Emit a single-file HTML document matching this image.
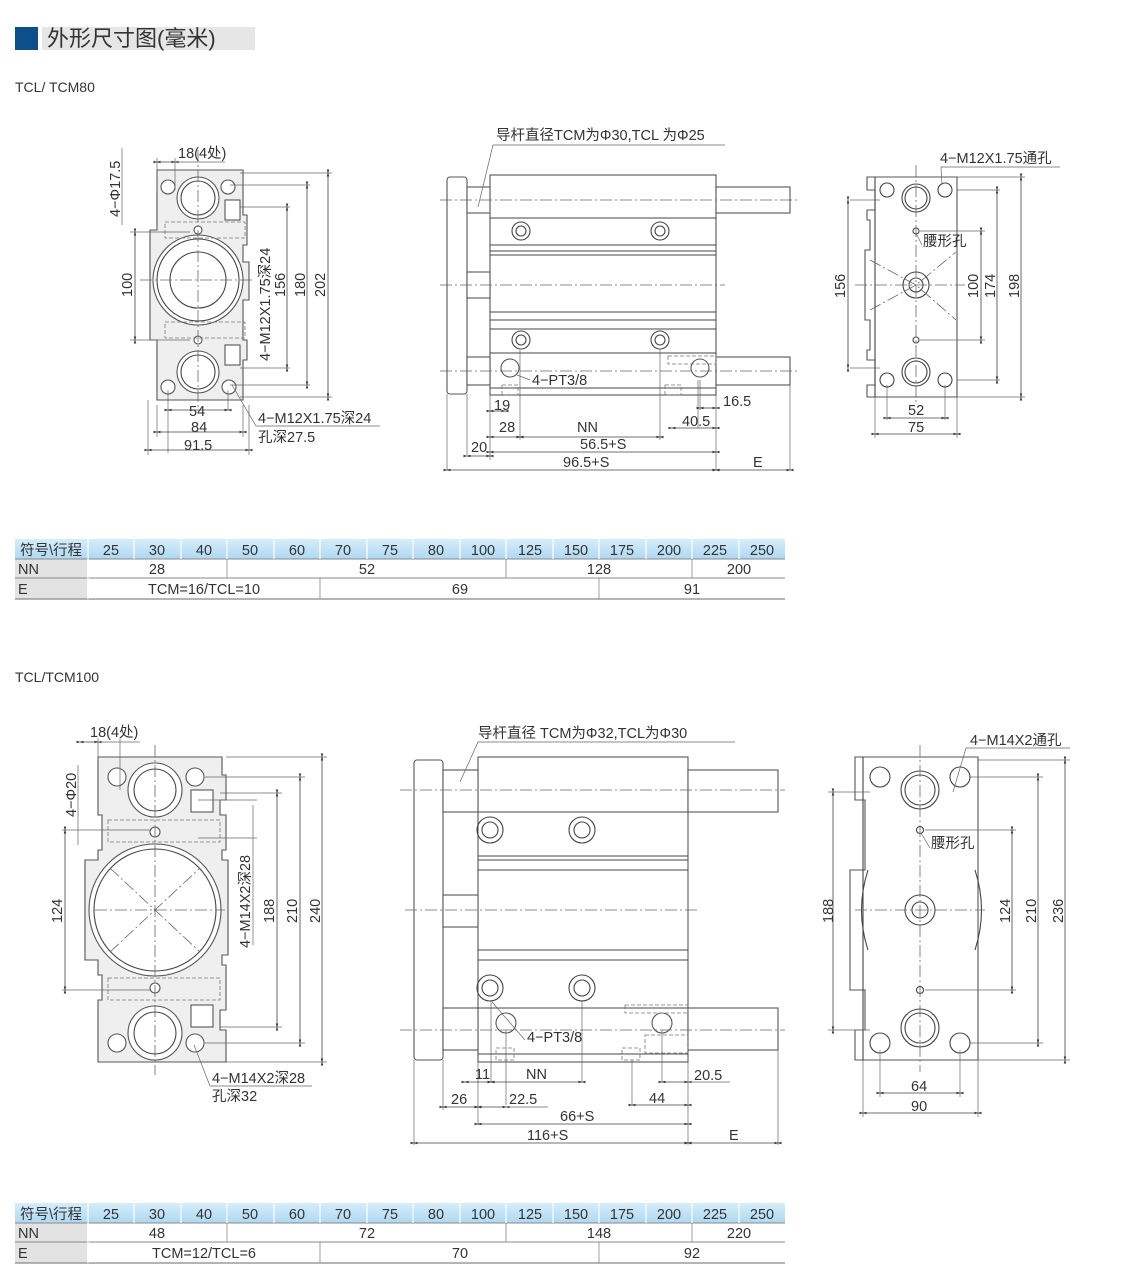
<!DOCTYPE html>
<html><head><meta charset="utf-8"><style>
html,body{margin:0;padding:0;background:#fff;width:1140px;height:1284px;overflow:hidden}
svg{display:block}
text{font-family:"Liberation Sans","Noto Sans CJK SC",sans-serif;fill:#333}
.o{fill:none;stroke:#444;stroke-width:1.1}
.g{fill:#efefef;stroke:#555;stroke-width:1.1}
.w{fill:#fff;stroke:#555;stroke-width:1.1}
.c{fill:none;stroke:#666;stroke-width:.8;stroke-dasharray:12 3 2 3}
.d{fill:none;stroke:#444;stroke-width:.8;marker-start:url(#a);marker-end:url(#a)}
.e{fill:none;stroke:#666;stroke-width:.7}
.h{fill:none;stroke:#777;stroke-width:.8;stroke-dasharray:4 2}
.t{font-size:14.5px}
.tb{font-size:14.5px}
</style></head><body>
<svg width="1140" height="1284" viewBox="0 0 1140 1284">
<defs>
<marker id="a" viewBox="0 0 10 10" refX="5" refY="5" markerWidth="9" markerHeight="9" orient="auto"><path d="M0,3.5 L5,5 L0,6.5 M10,3.5 L5,5 L10,6.5" fill="#333" stroke="#333" stroke-width=".5"/></marker>
<linearGradient id="bl" x1="0" y1="0" x2="0" y2="1"><stop offset="0" stop-color="#d6edfa"/><stop offset="1" stop-color="#aed9f2"/></linearGradient>
</defs>

<rect x="15" y="27" width="23" height="23" fill="#0d4f8a"/>
<rect x="42" y="27" width="213" height="23" fill="#e6e6e6"/>
<text x="47" y="46" style="font-size:22px" fill="#222">外形尺寸图(毫米)</text>
<text x="15" y="92" style="font-size:14px">TCL/ TCM80</text>
<text x="15" y="682" style="font-size:14px">TCL/TCM100</text>

<!-- FRONT VIEW 1 -->
<path class="g" d="M157,170 H243 V215 H247 V245 H243 V262 H249 V300 H243 V340 H247 V360 H243 V400 H157 V340 H150 V230 H157 Z"/>
<circle class="w" cx="198" cy="280" r="45"/><circle class="o" cx="198" cy="280" r="41"/><circle class="o" cx="198" cy="280" r="28"/>
<circle class="w" cx="198" cy="198" r="21"/><circle class="o" cx="198" cy="198" r="17"/>
<circle class="w" cx="198" cy="372" r="21"/><circle class="o" cx="198" cy="372" r="17"/>
<circle class="w" cx="168" cy="187" r="7"/><circle class="w" cx="228" cy="187" r="7"/><circle class="w" cx="168" cy="387" r="7"/><circle class="w" cx="229" cy="387" r="7"/>
<circle class="w" cx="198" cy="230" r="4"/><circle class="w" cx="198" cy="340" r="4"/>
<rect class="h" x="165" y="222" width="80" height="16"/><rect class="h" x="165" y="322" width="80" height="16"/>
<rect class="w" x="225" y="200" width="15" height="20"/><rect class="w" x="225" y="345" width="15" height="20"/>
<line class="c" x1="198" y1="150" x2="198" y2="410"/><line class="c" x1="140" y1="280" x2="255" y2="280"/>
<line class="e" x1="168" y1="390" x2="168" y2="453"/><line class="e" x1="228" y1="390" x2="228" y2="410"/>
<line class="e" x1="240" y1="173" x2="332" y2="173"/><line class="e" x1="240" y1="397" x2="332" y2="397"/>
<line class="e" x1="230" y1="185" x2="310" y2="185"/><line class="e" x1="230" y1="385" x2="310" y2="385"/>
<line class="e" x1="240" y1="207" x2="290" y2="207"/><line class="e" x1="240" y1="368" x2="290" y2="368"/>
<line class="e" x1="130" y1="232" x2="190" y2="232"/><line class="e" x1="130" y1="340" x2="190" y2="340"/>
<line class="d" x1="328" y1="173" x2="328" y2="397"/><line class="d" x1="307" y1="185" x2="307" y2="385"/>
<line class="d" x1="287" y1="207" x2="287" y2="368"/><line class="d" x1="135" y1="232" x2="135" y2="340"/>
<line class="d" x1="168" y1="410" x2="228" y2="410"/><line class="d" x1="157" y1="432" x2="243" y2="432"/><line class="d" x1="148" y1="450" x2="249" y2="450"/>
<line class="e" x1="157" y1="405" x2="157" y2="437"/><line class="e" x1="243" y1="405" x2="243" y2="437"/><line class="e" x1="249" y1="405" x2="249" y2="455"/><line class="e" x1="148" y1="400" x2="148" y2="455"/>
<line class="d" x1="157" y1="162" x2="175" y2="162"/><line class="e" x1="175" y1="162" x2="225" y2="162"/><line class="e" x1="157" y1="158" x2="157" y2="190"/><line class="e" x1="175" y1="158" x2="175" y2="190"/>
<line class="e" x1="122" y1="148" x2="122" y2="225"/>
<text class="t" x="178" y="158">18(4处)</text>
<text class="t" transform="translate(120,217) rotate(-90)">4−Φ17.5</text>
<text class="t" transform="translate(132,297) rotate(-90)">100</text>
<text class="t" transform="translate(270,361) rotate(-90)">4−M12X1.75深24</text>
<text class="t" transform="translate(285,297) rotate(-90)">156</text>
<text class="t" transform="translate(305,297) rotate(-90)">180</text>
<text class="t" transform="translate(325,297) rotate(-90)">202</text>
<text class="t" x="189" y="416">54</text><text class="t" x="191" y="432">84</text><text class="t" x="184" y="450">91.5</text>
<path class="e" d="M232,385 L256,426 H380"/>
<text class="t" x="258" y="423">4−M12X1.75深24</text><text class="t" x="258" y="442">孔深27.5</text>

<!-- SIDE VIEW 1 -->
<rect class="w" x="447" y="177" width="20" height="217" rx="3"/>
<rect class="w" x="490" y="175" width="226" height="220"/>
<line class="o" x1="490" y1="218" x2="716" y2="218"/><line class="o" x1="490" y1="245" x2="716" y2="245"/><line class="o" x1="490" y1="251" x2="716" y2="251"/><line class="o" x1="490" y1="255" x2="716" y2="255"/>
<line class="o" x1="490" y1="312" x2="716" y2="312"/><line class="o" x1="490" y1="320" x2="716" y2="320"/><line class="o" x1="490" y1="329" x2="716" y2="329"/><line class="o" x1="490" y1="353" x2="716" y2="353"/><line class="o" x1="490" y1="388" x2="716" y2="388"/>
<rect class="w" x="467" y="187" width="23" height="26"/><rect class="w" x="716" y="187" width="74" height="26"/>
<rect class="w" x="467" y="357" width="23" height="28"/><rect class="w" x="716" y="357" width="74" height="28"/>
<rect class="w" x="467" y="272" width="23" height="26"/>
<circle class="o" cx="521" cy="231" r="9"/><circle class="o" cx="521" cy="231" r="5"/><circle class="o" cx="660" cy="231" r="9"/><circle class="o" cx="660" cy="231" r="5"/>
<circle class="o" cx="521" cy="340" r="9"/><circle class="o" cx="521" cy="340" r="5"/><circle class="o" cx="660" cy="340" r="9"/><circle class="o" cx="660" cy="340" r="5"/>
<circle class="w" cx="510" cy="368" r="9"/><circle class="w" cx="700" cy="368" r="9"/>
<rect class="h" x="502" y="385" width="16" height="10"/><rect class="h" x="665" y="385" width="16" height="10"/>
<rect class="h" x="668" y="356" width="48" height="8"/>
<line class="c" x1="440" y1="200" x2="800" y2="200"/><line class="c" x1="440" y1="285" x2="725" y2="285"/><line class="c" x1="440" y1="371" x2="800" y2="371"/>
<path class="e" d="M478,207 L493,145 H725"/>
<text class="t" x="496" y="140">导杆直径TCM为Φ30,TCL 为Φ25</text>
<path class="e" d="M517,375 L530,380"/><text class="t" x="532" y="385">4−PT3/8</text>
<line class="e" x1="447" y1="394" x2="447" y2="470"/><line class="e" x1="467" y1="394" x2="467" y2="455"/><line class="e" x1="490" y1="395" x2="490" y2="460"/>
<line class="e" x1="716" y1="395" x2="716" y2="470"/><line class="e" x1="790" y1="385" x2="790" y2="470"/>
<line class="e" x1="520" y1="350" x2="520" y2="440"/><line class="e" x1="660" y1="350" x2="660" y2="440"/><line class="e" x1="698" y1="380" x2="698" y2="428"/><line class="e" x1="700" y1="380" x2="700" y2="410"/>
<text class="t" x="494" y="410">19</text><line class="d" x1="490" y1="411" x2="505" y2="411"/>
<text class="t" x="499" y="432">28</text><line class="d" x1="490" y1="437" x2="520" y2="437"/>
<text class="t" x="577" y="432">NN</text><line class="d" x1="520" y1="437" x2="660" y2="437"/>
<text class="t" x="471" y="452">20</text><line class="d" x1="467" y1="456" x2="490" y2="456"/>
<text class="t" x="580" y="449">56.5+S</text><line class="d" x1="490" y1="452" x2="716" y2="452"/>
<text class="t" x="563" y="467">96.5+S</text><line class="d" x1="447" y1="470" x2="716" y2="470"/>
<text class="t" x="753" y="467">E</text><line class="d" x1="716" y1="470" x2="790" y2="470"/>
<text class="t" x="723" y="406">16.5</text><line class="d" x1="700" y1="408" x2="716" y2="408"/>
<text class="t" x="682" y="426">40.5</text><line class="d" x1="672" y1="428" x2="716" y2="428"/>

<!-- RIGHT VIEW 1 -->
<path class="g" d="M867,177 H957 V397 H867 V385 H875 V360 H867 V350 H870 V320 H865 V250 H870 V220 H867 V210 H875 V190 H867 Z" style="fill:#fff"/>
<line class="o" x1="875" y1="177" x2="875" y2="397"/>
<circle class="o" cx="916" cy="198" r="14"/><circle class="o" cx="916" cy="198" r="11"/>
<circle class="o" cx="916" cy="372" r="14"/><circle class="o" cx="916" cy="372" r="11"/>
<circle class="o" cx="916" cy="285" r="13"/><circle class="o" cx="916" cy="285" r="7"/>
<circle class="o" cx="887" cy="190" r="7"/><circle class="o" cx="945" cy="190" r="7"/><circle class="o" cx="887" cy="380" r="7"/><circle class="o" cx="945" cy="380" r="7"/>
<circle class="o" cx="916" cy="231" r="3"/><circle class="o" cx="916" cy="340" r="3"/>
<path class="c" d="M870,260 L916,285 L956,252 M870,310 L916,285 L956,320"/>
<line class="c" x1="916" y1="165" x2="916" y2="405"/><line class="c" x1="855" y1="285" x2="965" y2="285"/>
<line class="e" x1="850" y1="200" x2="880" y2="200"/><line class="e" x1="850" y1="368" x2="880" y2="368"/>
<line class="d" x1="848" y1="200" x2="848" y2="368"/><text class="t" transform="translate(845,298) rotate(-90)">156</text>
<line class="e" x1="920" y1="231" x2="985" y2="231"/><line class="e" x1="920" y1="340" x2="985" y2="340"/>
<line class="d" x1="981" y1="231" x2="981" y2="340"/><text class="t" transform="translate(978,298) rotate(-90)">100</text>
<line class="e" x1="957" y1="190" x2="1000" y2="190"/><line class="e" x1="957" y1="380" x2="1000" y2="380"/>
<line class="d" x1="997" y1="190" x2="997" y2="380"/><text class="t" transform="translate(995,298) rotate(-90)">174</text>
<line class="e" x1="957" y1="177" x2="1025" y2="177"/><line class="e" x1="957" y1="397" x2="1025" y2="397"/>
<line class="d" x1="1021" y1="177" x2="1021" y2="397"/><text class="t" transform="translate(1019,298) rotate(-90)">198</text>
<line class="e" x1="887" y1="385" x2="887" y2="420"/><line class="e" x1="945" y1="385" x2="945" y2="420"/><line class="e" x1="875" y1="397" x2="875" y2="438"/><line class="e" x1="957" y1="397" x2="957" y2="438"/>
<line class="d" x1="887" y1="418" x2="945" y2="418"/><text class="t" x="908" y="415">52</text>
<line class="d" x1="875" y1="434" x2="957" y2="434"/><text class="t" x="908" y="432">75</text>
<path class="e" d="M942,185 L941,167 H1060"/><text class="t" x="940" y="163">4−M12X1.75通孔</text>
<path class="e" d="M916,233 L922,245"/><text class="t" x="923" y="246">腰形孔</text>

<!-- TABLE 1 -->
<g>
<rect x="15" y="539" width="73" height="20" fill="url(#bl)"/><rect x="88" y="539" width="697" height="20" fill="url(#bl)"/>
<rect x="15" y="559" width="72" height="40" fill="#e3e3e3"/>
<line x1="15" y1="559" x2="785" y2="559" stroke="#888" stroke-width="1"/>
<line x1="15" y1="578" x2="785" y2="578" stroke="#888" stroke-width="1"/>
<line x1="15" y1="599" x2="785" y2="599" stroke="#888" stroke-width="1.2"/>
<g stroke="#fff" stroke-width="1.2"><line x1="88" y1="539" x2="88" y2="599"/><line x1="134" y1="539" x2="134" y2="559"/><line x1="181" y1="539" x2="181" y2="559"/><line x1="227" y1="539" x2="227" y2="559"/><line x1="274" y1="539" x2="274" y2="559"/><line x1="320" y1="539" x2="320" y2="559"/><line x1="367" y1="539" x2="367" y2="559"/><line x1="413" y1="539" x2="413" y2="559"/><line x1="460" y1="539" x2="460" y2="559"/><line x1="506" y1="539" x2="506" y2="559"/><line x1="553" y1="539" x2="553" y2="559"/><line x1="599" y1="539" x2="599" y2="559"/><line x1="646" y1="539" x2="646" y2="559"/><line x1="692" y1="539" x2="692" y2="559"/><line x1="739" y1="539" x2="739" y2="559"/></g>
<g stroke="#888" stroke-width=".8"><line x1="227" y1="559" x2="227" y2="578"/><line x1="506" y1="559" x2="506" y2="578"/><line x1="692" y1="559" x2="692" y2="578"/><line x1="320" y1="578" x2="320" y2="599"/><line x1="599" y1="578" x2="599" y2="599"/></g>
<g class="tb" text-anchor="middle"><text x="51" y="555">符号\行程</text><text x="111" y="555">25</text><text x="157" y="555">30</text><text x="204" y="555">40</text><text x="250" y="555">50</text><text x="297" y="555">60</text><text x="343" y="555">70</text><text x="390" y="555">75</text><text x="436" y="555">80</text><text x="483" y="555">100</text><text x="530" y="555">125</text><text x="576" y="555">150</text><text x="622" y="555">175</text><text x="669" y="555">200</text><text x="715" y="555">225</text><text x="762" y="555">250</text>
<text x="157" y="574">28</text><text x="367" y="574">52</text><text x="599" y="574">128</text><text x="739" y="574">200</text>
<text x="204" y="594">TCM=16/TCL=10</text><text x="460" y="594">69</text><text x="692" y="594">91</text></g>
<text class="tb" x="18" y="574">NN</text><text class="tb" x="18" y="594">E</text>
</g>

<!-- FRONT VIEW 2 -->
<path class="g" d="M98,757 H222 V775 H226 V800 H220 V815 H226 V850 H222 V860 H228 V955 H222 V965 H226 V1010 H220 V1030 H226 V1062 H98 V1000 H102 V975 H98 V960 H85 V860 H98 V850 H102 V815 H98 Z"/>
<circle class="w" cx="155" cy="910" r="66"/><circle class="o" cx="155" cy="910" r="61"/>
<circle class="w" cx="155" cy="790" r="27"/><circle class="o" cx="155" cy="790" r="21"/>
<circle class="w" cx="155" cy="1033" r="27"/><circle class="o" cx="155" cy="1033" r="21"/>
<circle class="w" cx="117" cy="777" r="9"/><circle class="w" cx="195" cy="777" r="9"/><circle class="w" cx="117" cy="1043" r="9"/><circle class="w" cx="195" cy="1043" r="9"/>
<circle class="w" cx="155" cy="832" r="5"/><circle class="w" cx="155" cy="988" r="5"/>
<rect class="h" x="108" y="820" width="112" height="22"/><rect class="h" x="108" y="978" width="112" height="22"/>
<rect class="w" x="191" y="790" width="22" height="22"/><rect class="w" x="191" y="1005" width="22" height="22"/>
<path class="c" d="M110,868 L200,952 M110,952 L200,868"/>
<line class="c" x1="155" y1="745" x2="155" y2="1075"/><line class="c" x1="95" y1="910" x2="225" y2="910"/>
<line class="e" x1="226" y1="757" x2="327" y2="757"/><line class="e" x1="226" y1="1062" x2="327" y2="1062"/>
<line class="e" x1="205" y1="777" x2="305" y2="777"/><line class="e" x1="205" y1="1043" x2="305" y2="1043"/>
<line class="e" x1="220" y1="793" x2="282" y2="793"/><line class="e" x1="220" y1="1027" x2="282" y2="1027"/>
<line class="e" x1="62" y1="830" x2="150" y2="830"/><line class="e" x1="62" y1="990" x2="150" y2="990"/>
<line class="e" x1="198" y1="800" x2="257" y2="800"/><line class="e" x1="198" y1="838" x2="257" y2="838"/>
<line class="d" x1="322" y1="757" x2="322" y2="1062"/><line class="d" x1="300" y1="777" x2="300" y2="1043"/>
<line class="d" x1="277" y1="793" x2="277" y2="1027"/><line class="d" x1="65" y1="830" x2="65" y2="990"/>
<line class="e" x1="253" y1="805" x2="253" y2="945"/>
<text class="t" transform="translate(250,948) rotate(-90)">4−M14X2深28</text>
<text class="t" transform="translate(274,923) rotate(-90)">188</text>
<text class="t" transform="translate(297,923) rotate(-90)">210</text>
<text class="t" transform="translate(320,923) rotate(-90)">240</text>
<text class="t" transform="translate(62,923) rotate(-90)">124</text>
<line class="d" x1="80" y1="742" x2="98" y2="742"/><line class="e" x1="98" y1="742" x2="140" y2="742"/><line class="e" x1="98" y1="738" x2="98" y2="760"/><line class="e" x1="120" y1="738" x2="120" y2="790"/>
<text class="t" x="90" y="737">18(4处)</text>
<line class="e" x1="78" y1="765" x2="78" y2="845"/>
<text class="t" transform="translate(76,817) rotate(-90)">4−Φ20</text>
<path class="e" d="M194,1045 L210,1086 H312"/><text class="t" x="212" y="1083">4−M14X2深28</text><text class="t" x="212" y="1101">孔深32</text>

<!-- SIDE VIEW 2 -->
<rect class="w" x="414" y="760" width="29" height="300" rx="3"/>
<rect class="w" x="478" y="757" width="210" height="305"/>
<line class="o" x1="478" y1="812" x2="688" y2="812"/><line class="o" x1="478" y1="856" x2="688" y2="856"/><line class="o" x1="478" y1="860" x2="688" y2="860"/><line class="o" x1="478" y1="870" x2="688" y2="870"/>
<line class="o" x1="478" y1="950" x2="688" y2="950"/><line class="o" x1="478" y1="960" x2="688" y2="960"/><line class="o" x1="478" y1="1008" x2="688" y2="1008"/><line class="o" x1="478" y1="1054" x2="688" y2="1054"/>
<rect class="w" x="443" y="770" width="35" height="42"/><rect class="w" x="688" y="770" width="90" height="42"/>
<rect class="w" x="443" y="1008" width="35" height="42"/><rect class="w" x="688" y="1008" width="90" height="42"/>
<rect class="w" x="443" y="895" width="35" height="32"/>
<circle class="o" cx="490" cy="830" r="13"/><circle class="o" cx="490" cy="830" r="8"/><circle class="o" cx="582" cy="830" r="13"/><circle class="o" cx="582" cy="830" r="8"/>
<circle class="o" cx="490" cy="988" r="13"/><circle class="o" cx="490" cy="988" r="8"/><circle class="o" cx="582" cy="988" r="13"/><circle class="o" cx="582" cy="988" r="8"/>
<circle class="w" cx="506" cy="1023" r="10"/><circle class="w" cx="662" cy="1023" r="10"/>
<rect class="h" x="496" y="1048" width="18" height="12"/><rect class="h" x="622" y="1048" width="18" height="12"/>
<rect class="h" x="645" y="1035" width="43" height="18"/><rect class="h" x="625" y="1005" width="63" height="8"/>
<line class="c" x1="400" y1="790" x2="785" y2="790"/><line class="c" x1="405" y1="910" x2="700" y2="910"/><line class="c" x1="400" y1="1030" x2="785" y2="1030"/>
<path class="e" d="M460,782 L478,742 H735"/>
<text class="t" x="478" y="738">导杆直径 TCM为Φ32,TCL为Φ30</text>
<path class="e" d="M492,1002 L525,1040"/><text class="t" x="527" y="1042">4−PT3/8</text>
<line class="e" x1="414" y1="1060" x2="414" y2="1145"/><line class="e" x1="443" y1="1060" x2="443" y2="1110"/><line class="e" x1="478" y1="1062" x2="478" y2="1125"/>
<line class="e" x1="688" y1="1062" x2="688" y2="1145"/><line class="e" x1="778" y1="1050" x2="778" y2="1145"/>
<line class="e" x1="491" y1="1000" x2="491" y2="1082"/><line class="e" x1="506" y1="1030" x2="506" y2="1105"/><line class="e" x1="582" y1="1000" x2="582" y2="1082"/><line class="e" x1="632" y1="1060" x2="632" y2="1105"/><line class="e" x1="662" y1="1030" x2="662" y2="1082"/>
<text class="t" x="475" y="1079">11</text><line class="d" x1="465" y1="1082" x2="491" y2="1082"/>
<text class="t" x="526" y="1079">NN</text><line class="d" x1="491" y1="1082" x2="582" y2="1082"/>
<text class="t" x="451" y="1104">26</text><line class="d" x1="443" y1="1107" x2="478" y2="1107"/>
<text class="t" x="509" y="1104">22.5</text><line class="d" x1="478" y1="1107" x2="506" y2="1107"/><line class="e" x1="506" y1="1107" x2="548" y2="1107"/>
<text class="t" x="649" y="1103">44</text><line class="d" x1="632" y1="1105" x2="688" y2="1105"/>
<text class="t" x="694" y="1080">20.5</text><line class="d" x1="662" y1="1082" x2="688" y2="1082"/><line class="e" x1="688" y1="1082" x2="730" y2="1082"/>
<text class="t" x="560" y="1121">66+S</text><line class="d" x1="478" y1="1124" x2="688" y2="1124"/>
<text class="t" x="527" y="1140">116+S</text><line class="d" x1="414" y1="1143" x2="688" y2="1143"/>
<text class="t" x="729" y="1140">E</text><line class="d" x1="688" y1="1143" x2="778" y2="1143"/>

<!-- RIGHT VIEW 2 -->
<path class="g" d="M855,757 H978 V1060 H855 V1030 H865 V990 H850 V870 H865 V800 H855 Z" style="fill:#fff"/>
<line class="o" x1="863" y1="757" x2="863" y2="1060"/>
<path class="o" d="M868,870 Q855,910 868,950 M975,870 Q988,910 975,950"/>
<circle class="o" cx="920" cy="790" r="19"/><circle class="o" cx="920" cy="790" r="15"/>
<circle class="o" cx="920" cy="1028" r="19"/><circle class="o" cx="920" cy="1028" r="15"/>
<circle class="o" cx="920" cy="910" r="15"/><circle class="o" cx="920" cy="910" r="8"/>
<circle class="o" cx="880" cy="777" r="10"/><circle class="o" cx="960" cy="777" r="10"/><circle class="o" cx="880" cy="1043" r="10"/><circle class="o" cx="960" cy="1043" r="10"/>
<circle class="o" cx="920" cy="830" r="3.5"/><circle class="o" cx="920" cy="990" r="3.5"/>
<line class="c" x1="920" y1="745" x2="920" y2="1072"/><line class="c" x1="855" y1="910" x2="985" y2="910"/>
<line class="e" x1="828" y1="792" x2="870" y2="792"/><line class="e" x1="828" y1="1030" x2="870" y2="1030"/>
<line class="d" x1="833" y1="792" x2="833" y2="1030"/><text class="t" transform="translate(833,923) rotate(-90)">188</text>
<line class="e" x1="925" y1="830" x2="1016" y2="830"/><line class="e" x1="925" y1="990" x2="1016" y2="990"/>
<line class="d" x1="1012" y1="830" x2="1012" y2="990"/><text class="t" transform="translate(1010,923) rotate(-90)">124</text>
<line class="e" x1="970" y1="777" x2="1043" y2="777"/><line class="e" x1="970" y1="1043" x2="1043" y2="1043"/>
<line class="d" x1="1038" y1="777" x2="1038" y2="1043"/><text class="t" transform="translate(1036,923) rotate(-90)">210</text>
<line class="e" x1="978" y1="760" x2="1070" y2="760"/><line class="e" x1="978" y1="1060" x2="1070" y2="1060"/>
<line class="d" x1="1065" y1="760" x2="1065" y2="1060"/><text class="t" transform="translate(1063,923) rotate(-90)">236</text>
<line class="e" x1="880" y1="1050" x2="880" y2="1097"/><line class="e" x1="960" y1="1050" x2="960" y2="1097"/><line class="e" x1="863" y1="1060" x2="863" y2="1117"/><line class="e" x1="978" y1="1060" x2="978" y2="1117"/>
<line class="d" x1="880" y1="1093" x2="960" y2="1093"/><text class="t" x="911" y="1091">64</text>
<line class="d" x1="863" y1="1113" x2="978" y2="1113"/><text class="t" x="911" y="1111">90</text>
<path class="e" d="M953,792 L966,748 H1070"/><text class="t" x="970" y="745">4−M14X2通孔</text>
<path class="e" d="M921,833 L930,848"/><text class="t" x="931" y="848">腰形孔</text>

<!-- TABLE 2 -->
<g>
<rect x="15" y="1203" width="73" height="20" fill="url(#bl)"/><rect x="88" y="1203" width="697" height="20" fill="url(#bl)"/>
<rect x="15" y="1223" width="72" height="40" fill="#e3e3e3"/>
<line x1="15" y1="1223" x2="785" y2="1223" stroke="#888" stroke-width="1"/>
<line x1="15" y1="1242" x2="785" y2="1242" stroke="#888" stroke-width="1"/>
<line x1="15" y1="1263" x2="785" y2="1263" stroke="#888" stroke-width="1.2"/>
<g stroke="#fff" stroke-width="1.2"><line x1="88" y1="1203" x2="88" y2="1263"/><line x1="134" y1="1203" x2="134" y2="1223"/><line x1="181" y1="1203" x2="181" y2="1223"/><line x1="227" y1="1203" x2="227" y2="1223"/><line x1="274" y1="1203" x2="274" y2="1223"/><line x1="320" y1="1203" x2="320" y2="1223"/><line x1="367" y1="1203" x2="367" y2="1223"/><line x1="413" y1="1203" x2="413" y2="1223"/><line x1="460" y1="1203" x2="460" y2="1223"/><line x1="506" y1="1203" x2="506" y2="1223"/><line x1="553" y1="1203" x2="553" y2="1223"/><line x1="599" y1="1203" x2="599" y2="1223"/><line x1="646" y1="1203" x2="646" y2="1223"/><line x1="692" y1="1203" x2="692" y2="1223"/><line x1="739" y1="1203" x2="739" y2="1223"/></g>
<g stroke="#888" stroke-width=".8"><line x1="227" y1="1223" x2="227" y2="1242"/><line x1="506" y1="1223" x2="506" y2="1242"/><line x1="692" y1="1223" x2="692" y2="1242"/><line x1="320" y1="1242" x2="320" y2="1263"/><line x1="599" y1="1242" x2="599" y2="1263"/></g>
<g class="tb" text-anchor="middle"><text x="51" y="1219">符号\行程</text><text x="111" y="1219">25</text><text x="157" y="1219">30</text><text x="204" y="1219">40</text><text x="250" y="1219">50</text><text x="297" y="1219">60</text><text x="343" y="1219">70</text><text x="390" y="1219">75</text><text x="436" y="1219">80</text><text x="483" y="1219">100</text><text x="530" y="1219">125</text><text x="576" y="1219">150</text><text x="622" y="1219">175</text><text x="669" y="1219">200</text><text x="715" y="1219">225</text><text x="762" y="1219">250</text>
<text x="157" y="1238">48</text><text x="367" y="1238">72</text><text x="599" y="1238">148</text><text x="739" y="1238">220</text>
<text x="204" y="1258">TCM=12/TCL=6</text><text x="460" y="1258">70</text><text x="692" y="1258">92</text></g>
<text class="tb" x="18" y="1238">NN</text><text class="tb" x="18" y="1258">E</text>
</g>
</svg>
</body></html>
